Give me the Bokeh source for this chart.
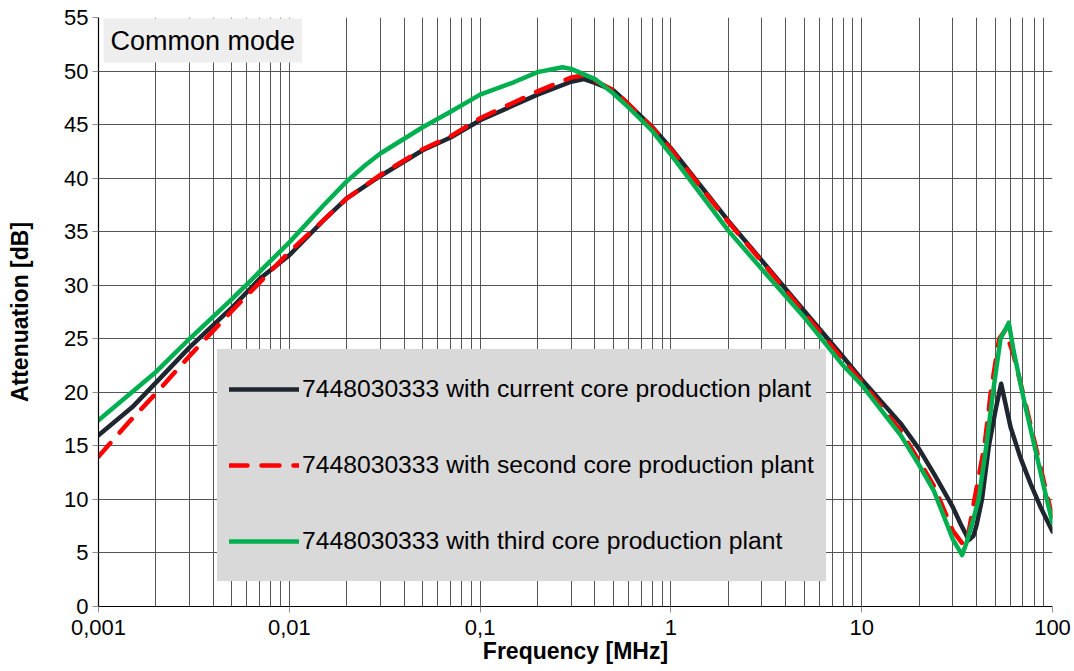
from bokeh.plotting import figure
from bokeh.models import FixedTicker, Range1d, Legend, LegendItem, Label
from bokeh.embed import file_html
from bokeh.resources import INLINE

# ---- data ----
f_current = [0.001, 0.0015, 0.002, 0.003, 0.005, 0.007, 0.01, 0.015, 0.02, 0.03, 0.05, 0.07,
             0.1, 0.15, 0.2, 0.3, 0.35, 0.4, 0.5, 0.6, 0.8, 1, 2, 3, 5, 8, 10, 16, 20, 23.9,
             30, 33, 36.4, 38.5, 40, 42.7, 46.4, 50.5, 53.8, 60.4, 67.9, 76.6, 86.5, 100]
a_current = [16.0, 18.6, 20.9, 24.2, 27.9, 30.6, 32.8, 36.0, 38.1, 40.2, 42.6, 43.8,
             45.4, 46.8, 47.8, 49.0, 49.25, 48.9, 48.2, 46.9, 44.75, 42.8, 36.0, 32.3, 27.6, 23.3, 21.2, 17.1, 14.7, 12.4,
             9.3, 7.7, 6.2, 6.6, 7.6, 10.0, 15.0, 18.5, 20.8, 16.7, 13.9, 11.5, 9.3, 7.0]

f_second = [0.001, 0.00144, 0.002, 0.003, 0.005, 0.01, 0.02, 0.03, 0.05, 0.07,
            0.1, 0.2, 0.3, 0.35, 0.4, 0.5, 0.6, 0.8, 1, 2, 3, 5, 8, 10, 16, 20, 24,
            30, 34.3, 36, 39, 44, 47.5, 52.5, 56.5, 62.5, 71, 80, 90, 100]
a_second = [14.0, 17.2, 19.9, 23.4, 27.6, 33.1, 38.1, 40.3, 42.7, 43.9,
            45.6, 48.1, 49.4, 49.6, 49.1, 48.2, 46.9, 44.7, 42.7, 35.9, 32.2, 27.4, 23.0, 21.0, 16.4, 13.6, 11.2,
            7.1, 5.7, 6.5, 10.0, 15.0, 20.0, 25.0, 25.8, 23.5, 19.5, 15.6, 11.7, 8.3]

f_third = [0.001, 0.002, 0.003, 0.005, 0.01, 0.015, 0.02, 0.025, 0.03, 0.05, 0.07,
           0.1, 0.15, 0.2, 0.27, 0.3, 0.4, 0.5, 0.6, 0.8, 1, 2, 3, 5, 8, 10, 16, 20, 23.9,
           30, 33.6, 35.5, 38, 41, 45, 48.8, 53.4, 59, 62.5, 71, 80, 90, 100]
a_third = [17.4, 21.9, 25.0, 28.7, 34.0, 37.4, 39.7, 41.2, 42.3, 44.75, 46.2,
           47.8, 48.95, 49.9, 50.35, 50.2, 49.25, 47.9, 46.6, 44.4, 42.2, 35.1, 31.5, 27.0, 22.5, 20.7, 16.0, 13.2, 10.8,
           6.3, 4.8, 6.0, 7.8, 10.0, 15.0, 20.0, 25.0, 26.5, 23.9, 19.2, 15.2, 11.2, 7.8]

series_names = ["7448030333 with current core production plant",
                "7448030333 with second core production plant",
                "7448030333 with third core production plant"]

x_ticks = [0.001, 0.01, 0.1, 1, 10, 100]
x_tick_labels = ["0,001", "0,01", "0,1", "1", "10", "100"]
y_ticks = list(range(0, 56, 5))

FONT = "Liberation Sans"
LEGEND_GRAY = "#d9d9d9"

p = figure(width=1072, height=670, x_axis_type="log",
           x_range=Range1d(0.001, 100), y_range=Range1d(0, 55),
           output_backend="svg", toolbar_location=None,
           min_border_left=98, min_border_right=20, min_border_top=17, min_border_bottom=64)
p.outline_line_color = None
p.background_fill_color = "white"

minor = [m * d for d in [0.001, 0.01, 0.1, 1, 10] for m in range(2, 10)]
p.xaxis.ticker = FixedTicker(ticks=x_ticks, minor_ticks=minor)
p.xaxis.major_label_overrides = {t: s for t, s in zip(x_ticks, x_tick_labels)}
p.yaxis.ticker = FixedTicker(ticks=y_ticks)

for ax in (p.xaxis[0], p.yaxis[0]):
    ax.axis_line_color = "black"
    ax.axis_line_width = 1.2
    ax.major_tick_line_color = "#909090"
    ax.major_tick_out = 6
    ax.major_tick_in = 0
    ax.minor_tick_out = 0
    ax.minor_tick_in = 0
    ax.major_label_text_font = FONT
    ax.major_label_text_font_size = "22px"
    ax.major_label_text_color = "black"
    ax.axis_label_text_font = FONT
    ax.axis_label_text_font_size = "23px"
    ax.axis_label_text_font_style = "bold"
    ax.axis_label_text_color = "black"

p.xaxis.axis_label = "Frequency [MHz]"
p.yaxis.axis_label = "Attenuation [dB]"
p.xaxis.major_label_standoff = 7
p.xaxis.axis_label_standoff = 0
p.yaxis.major_label_standoff = 4
p.yaxis.axis_label_standoff = 28

p.xgrid.grid_line_color = "#555555"
p.xgrid.minor_grid_line_color = "#555555"
p.xgrid.grid_line_width = 1
p.xgrid.minor_grid_line_width = 1
p.ygrid.grid_line_color = "#555555"
p.ygrid.grid_line_width = 1

r1 = p.line(f_current, a_current, line_color="#1f2630", line_width=4.5, line_join="round", line_cap="round")
r2 = p.line(f_second, a_second, line_color="#ff0000", line_width=4.5, line_dash="18 14", line_cap="round")
r3 = p.line(f_third, a_third, line_color="#00b050", line_width=4.5, line_join="round", line_cap="round")

legend = Legend(items=[LegendItem(label=series_names[0], renderers=[r1]),
                       LegendItem(label=series_names[1], renderers=[r2]),
                       LegendItem(label=series_names[2], renderers=[r3])],
                location=(119, 25), orientation="vertical",
                background_fill_color=LEGEND_GRAY, background_fill_alpha=1.0,
                border_line_color=LEGEND_GRAY, border_line_width=1, padding=11, margin=0,
                spacing=20, glyph_width=70, glyph_height=56, label_height=56,
                label_standoff=3, label_text_font=FONT, label_text_font_size="24.7px",
                label_text_color="black")
p.add_layout(legend, "center")

title_label = Label(x=5, y=544, x_units="screen", y_units="screen",
                    text="Common mode", text_font=FONT, text_font_size="27px",
                    text_color="black", text_baseline="bottom", text_align="left",
                    background_fill_color="#eeeeee", background_fill_alpha=1.0,
                    padding=7)
p.add_layout(title_label)

open("out.html", "w").write(file_html(p, INLINE))
